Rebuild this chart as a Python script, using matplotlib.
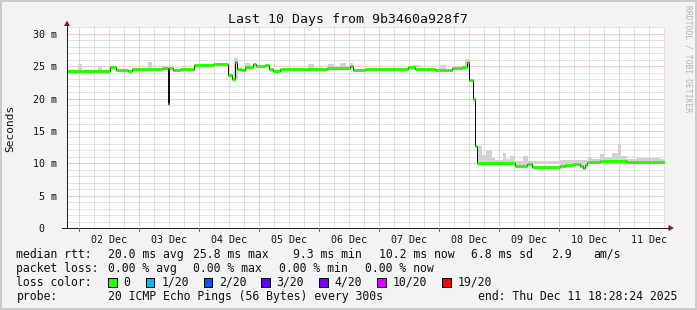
import numpy as np
import matplotlib
matplotlib.use("Agg")
import matplotlib.pyplot as plt
from matplotlib.patches import Polygon, Rectangle
from matplotlib.lines import Line2D

# ---------------- data (x in days since 01 Dec 00:00) ----------------
med_t = [0.8, 1.017, 1.267, 1.517, 1.617, 1.817, 1.883, 2.217, 2.383, 2.483,
         2.5, 2.567, 2.683, 2.917, 3.233, 3.483, 3.55, 3.6, 3.633, 3.717,
         3.767, 3.9, 3.95, 4.1, 4.167, 4.233, 4.35, 4.767, 5.133, 5.3,
         5.517, 5.567, 5.767, 5.983, 6.483, 6.6, 6.933, 7.217, 7.383, 7.467,
         7.5, 7.567, 7.6, 7.633, 8.267, 8.467, 8.55, 9.017, 9.1, 9.233,
         9.35, 9.4, 9.433, 9.467, 9.683, 10.133, 10.77]
med_ms = [24.3, 24.2, 24.3, 24.9, 24.4, 24.2, 24.5, 24.6, 24.8, 19.2,
          24.8, 24.4, 24.5, 25.2, 25.3, 23.6, 23.1, 25.7, 24.6, 24.4,
          24.9, 25.3, 25.0, 25.2, 24.6, 24.3, 24.5, 24.6, 24.7, 24.8,
          25.0, 24.4, 24.6, 24.5, 24.9, 24.5, 24.45, 24.7, 24.9, 25.6,
          22.9, 19.9, 12.7, 10.0, 9.6, 9.85, 9.5, 9.65, 9.8, 9.9,
          9.6, 9.25, 9.8, 10.2, 10.3, 10.2, 10.2]

smoke_start = [0.983, 1.317, 2.15, 3.583, 3.767, 4.817, 5.15, 5.35, 5.517, 6.567,
               7.017, 7.433, 7.65, 7.717, 7.783, 7.883, 7.933, 8.067, 8.117, 8.183,
               8.267, 8.4, 8.483, 9.017, 9.483, 9.55, 9.683, 9.75, 9.883, 9.983,
               10.033, 10.133, 10.3, 10.683]
smoke_end = [1.05, 1.383, 2.217, 3.65, 3.85, 4.917, 5.25, 5.45, 5.567, 6.683,
             7.117, 7.517, 7.717, 7.783, 7.883, 7.933, 8.067, 8.117, 8.183, 8.267,
             8.4, 8.483, 9.017, 9.467, 9.55, 9.683, 9.75, 9.883, 9.983, 10.033,
             10.133, 10.3, 10.683, 10.77]
smoke_top = [25.3, 25.1, 25.7, 26.2, 25.5, 25.3, 25.3, 25.5, 25.5, 25.2,
             25.2, 26.1, 12.6, 11.3, 12.05, 10.8, 10.5, 11.55, 10.6, 11.2,
             10.4, 11.2, 10.3, 10.5, 11.0, 10.7, 11.4, 11.0, 11.6, 12.8,
             11.2, 10.6, 10.8, 10.6]

day_labels = ["02 Dec", "03 Dec", "04 Dec", "05 Dec", "06 Dec",
              "07 Dec", "08 Dec", "09 Dec", "10 Dec", "11 Dec"]
y_ticks_ms = [0, 5, 10, 15, 20, 25, 30]

loss_labels = ["0", "1/20", "2/20", "3/20", "4/20", "10/20", "19/20"]
loss_colors = ["#26ff00", "#00b8ff", "#0059ff", "#5e00ff", "#7e00ff", "#dd00ff", "#ff0000"]

title = "Last 10 Days from 9b3460a928f7"

# ---------------- figure ----------------
W, H = 697, 310
MONO = "DejaVu Sans Mono"
plt.rcParams["font.family"] = [MONO]

fig = plt.figure(figsize=(W / 100, H / 100), dpi=100)
fig.patch.set_facecolor("#f3f3f3")

def fx(px):
    return px / W

def fy(py):
    return 1 - py / H

ax_left, ax_right, ax_bottom = 67, 665, 228
ymax = 31
ax_top = ax_bottom - ymax * 6.47
ax = fig.add_axes([fx(ax_left), fy(ax_bottom), (ax_right - ax_left) / W, (ax_bottom - ax_top) / H])
ax.set_facecolor("white")
x0, x1 = 0.8, 10.77
ax.set_xlim(x0, x1)
ax.set_ylim(0, ymax)
for s in ax.spines.values():
    s.set_visible(False)

px = 0.72  # one pixel in points
dot = (0, (1, 1))
# grid
for v in np.arange(1, ymax + 0.5, 1):
    if v % 5 == 0:
        continue
    ax.axhline(v, color="#c6c6c6", lw=px, ls=dot, zorder=0, snap=True)
for v in np.arange(0.75, x1, 0.25):
    if v < x0 or abs(v - round(v)) < 1e-6:
        continue
    ax.axvline(v, color="#c6c6c6", lw=px, ls=dot, zorder=0, snap=True)
for v in y_ticks_ms[1:]:
    ax.axhline(v, color="#eb9c9c", lw=px, ls=dot, zorder=0.5, snap=True)
for v in range(1, 11):
    ax.axvline(v, color="#eb9c9c", lw=px, ls=dot, zorder=0.5, snap=True)

# smoke
t = np.array(med_t)
m = np.array(med_ms)
for s0, s1, top in zip(smoke_start, smoke_end, smoke_top):
    idx = max(np.searchsorted(t, s0, side="right") - 1, 0)
    base = m[idx]
    ax.fill_between([s0, s1], [base, base], [top, top], color="#d2d2d2", lw=0, zorder=1)

# median: thin black step + thick green horizontal segments
ax.step(t, m, where="post", color="#111111", lw=1.0 * px, zorder=2)
ax.hlines(m[:-1], t[:-1], t[1:], colors=loss_colors[0], lw=3 * px, zorder=3)

# ticks
ax.set_yticks(y_ticks_ms)
ax.set_yticklabels([("%d m" % v) if v else "0  " for v in y_ticks_ms])
ax.set_xticks(np.arange(1.5, 11, 1))
ax.set_xticklabels(day_labels)
ax.tick_params(axis="both", length=0, labelsize=7.2, colors="#111111")
ax.tick_params(axis="y", pad=7)
ax.tick_params(axis="x", pad=5)

# axis lines and arrows
fig.add_artist(Line2D([fx(62), fx(669)], [fy(228), fy(228)], color="#202020", lw=px))
fig.add_artist(Line2D([fx(67), fx(67)], [fy(228), fy(25)], color="#202020", lw=px))
fig.add_artist(Polygon([[fx(67), fy(20.5)], [fx(64), fy(26)], [fx(70), fy(26)]],
                       closed=True, color="#8b1a1a", lw=0))
fig.add_artist(Polygon([[fx(674), fy(228)], [fx(668.5), fy(225)], [fx(668.5), fy(231)]],
                       closed=True, color="#8b1a1a", lw=0))
for v in range(1, 11):
    xp = ax_left + (v - x0) / (x1 - x0) * (ax_right - ax_left)
    fig.add_artist(Line2D([fx(xp), fx(xp)], [fy(228), fy(231)], color="#cc4444", lw=px))

# title and labels
fig.text(fx(348), fy(20), title, ha="center", va="center", fontsize=9.5, color="#111111")
fig.text(fx(10.5), fy(128), "Seconds", rotation=90, ha="center", va="center",
         fontsize=8, color="#111111")
fig.text(fx(688), fy(5), "RRDTOOL / TOBI OETIKER", rotation=270, ha="center", va="top",
         fontsize=5.8, color="#b4b4b4")

# legend rows
fs = 8.3
rows_y = [254.3, 268.3, 282.3, 296.3]
def t_at(x, y, s):
    fig.text(fx(x), fy(y), s, ha="left", va="center", fontsize=fs, color="#111111")

t_at(16.4, rows_y[0], "median rtt:")
for x, s in [(107.6, "20.0 ms avg"), (193, "25.8 ms max"), (293, "9.3 ms min"),
             (379, "10.2 ms now"), (471, "6.8 ms sd"), (551, "2.9"), (593, "am/s")]:
    t_at(x, rows_y[0], s)
t_at(16.4, rows_y[1], "packet loss:")
for x, s in [(107.6, "0.00 % avg"), (193, "0.00 % max"), (279, "0.00 % min"), (365, "0.00 % now")]:
    t_at(x, rows_y[1], s)
t_at(16.4, rows_y[2], "loss color:")
box_x = [108, 145.8, 203.6, 261, 319, 377, 442]
for bx, lab, c in zip(box_x, loss_labels, loss_colors):
    fig.add_artist(Rectangle((fx(bx), fy(rows_y[2] + 4.5)), 8.5 / W, 9 / H,
                             facecolor=c, edgecolor="#000000", lw=px))
    t_at(bx + 15.5, rows_y[2], lab)
t_at(16.4, rows_y[3], "probe:")
t_at(107.6, rows_y[3], "20 ICMP Echo Pings (56 Bytes) every 300s")
t_at(477.8, rows_y[3], "end: Thu Dec 11 18:28:24 2025")

# outer border
fig.add_artist(Rectangle((0, 0), 1, 1, transform=fig.transFigure, fill=False,
                         edgecolor="#cbcbcb", lw=4 * px))

fig.savefig("out.png", dpi=100, facecolor=fig.get_facecolor())
